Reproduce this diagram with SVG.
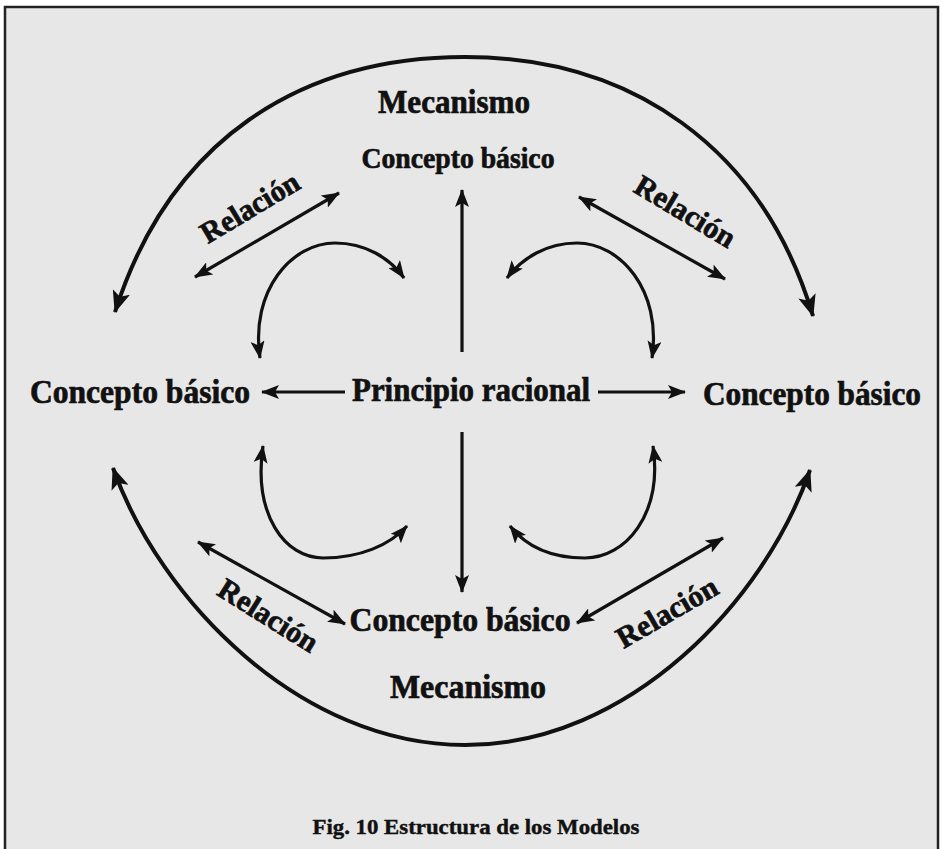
<svg xmlns="http://www.w3.org/2000/svg" width="943" height="849" viewBox="0 0 943 849">
<style>
.bg{fill:#e7e7e7}
.frame{fill:none;stroke:#222;stroke-width:2.5}
.ln{fill:none;stroke:#111;stroke-width:3.2}
.big{fill:none;stroke:#111;stroke-width:4}
.t{font-family:"Liberation Serif","Times New Roman",serif;font-weight:bold;fill:#111;stroke:#111;stroke-width:0.7;text-anchor:middle}
.n{font-size:33px}
.r{font-size:30px}
.cap{font-size:20px;stroke-width:0.4}
</style>
<defs>
<marker id="ah" viewBox="0 0 18 14" refX="17" refY="7" markerWidth="18" markerHeight="14" markerUnits="userSpaceOnUse" orient="auto-start-reverse">
<path d="M0,0 L18,7 L0,14 L4,7 z" fill="#111"/>
</marker>
<marker id="ab" viewBox="0 0 22 18" refX="21" refY="9" markerWidth="22" markerHeight="18" markerUnits="userSpaceOnUse" orient="auto-start-reverse">
<path d="M0,0 L22,9 L0,18 L5,9 z" fill="#111"/>
</marker>
</defs>
<rect x="0" y="0" width="943" height="849" fill="#ffffff"/>
<rect class="bg" x="5" y="7" width="933" height="850"/>
<rect class="frame" x="5" y="7" width="933" height="850"/>

<g id="connectors">
<path class="big" d="M115,312 C170,140 300,57 465,57 C630,57 762,146 813,316" marker-start="url(#ab)" marker-end="url(#ab)"/>
<path class="big" d="M113,468 C160,600 300,745 465,745 C630,745 765,600 810,470" marker-start="url(#ab)" marker-end="url(#ab)"/>
<line class="ln" x1="462" y1="352" x2="462" y2="190" marker-end="url(#ah)"/>
<line class="ln" x1="462" y1="432" x2="462" y2="592" marker-end="url(#ah)"/>
<line class="ln" x1="345" y1="392" x2="262" y2="392" marker-end="url(#ah)"/>
<line class="ln" x1="598" y1="392" x2="685" y2="392" marker-end="url(#ah)"/>
<line class="ln" x1="195" y1="277" x2="339" y2="193" marker-start="url(#ah)" marker-end="url(#ah)"/>
<line class="ln" x1="579" y1="197" x2="725" y2="279" marker-start="url(#ah)" marker-end="url(#ah)"/>
<line class="ln" x1="198" y1="542" x2="345" y2="624" marker-start="url(#ah)" marker-end="url(#ah)"/>
<line class="ln" x1="723" y1="538" x2="577" y2="623" marker-start="url(#ah)" marker-end="url(#ah)"/>
<path class="ln" d="M260,358 C250,290 292,243 335,243 C365,243 390,258 404,278" marker-start="url(#ah)" marker-end="url(#ah)"/>
<path class="ln" d="M652,358 C662,290 620,243 577,243 C547,243 522,258 507,278" marker-start="url(#ah)" marker-end="url(#ah)"/>
<path class="ln" d="M263,446 C253,515 285,558 323,558 C360,558 390,545 407,526" marker-start="url(#ah)" marker-end="url(#ah)"/>
<path class="ln" d="M653,446 C663,515 625,558 585,558 C548,558 525,545 510,526" marker-start="url(#ah)" marker-end="url(#ah)"/>
</g>

<g id="mecanismo-top"><text class="t n" x="454" y="113" textLength="152" lengthAdjust="spacingAndGlyphs">Mecanismo</text></g>
<g id="concepto-top"><text class="t n" x="458" y="168" textLength="193" lengthAdjust="spacingAndGlyphs" style="font-size:30px">Concepto básico</text></g>
<g id="concepto-left"><text class="t n" x="140" y="403" textLength="220" lengthAdjust="spacingAndGlyphs">Concepto básico</text></g>
<g id="principio"><text class="t n" x="471" y="401" textLength="238" lengthAdjust="spacingAndGlyphs">Principio racional</text></g>
<g id="concepto-right"><text class="t n" x="812" y="405" textLength="218" lengthAdjust="spacingAndGlyphs">Concepto básico</text></g>
<g id="concepto-bottom"><text class="t n" x="460" y="631" textLength="221" lengthAdjust="spacingAndGlyphs">Concepto básico</text></g>
<g id="mecanismo-bottom"><text class="t n" x="468" y="698" textLength="156" lengthAdjust="spacingAndGlyphs">Mecanismo</text></g>

<g id="relacion-tl"><text class="t r" transform="translate(255,216) rotate(-31)" textLength="110" lengthAdjust="spacingAndGlyphs">Relación</text></g>
<g id="relacion-tr"><text class="t r" transform="translate(680,220) rotate(31)" textLength="112" lengthAdjust="spacingAndGlyphs">Relación</text></g>
<g id="relacion-bl"><text class="t r" transform="translate(263,624) rotate(32)" textLength="112" lengthAdjust="spacingAndGlyphs">Relación</text></g>
<g id="relacion-br"><text class="t r" transform="translate(672,621) rotate(-30)" textLength="112" lengthAdjust="spacingAndGlyphs">Relación</text></g>

<g id="caption"><text class="t cap" x="476" y="834" textLength="327" lengthAdjust="spacingAndGlyphs">Fig. 10  Estructura de los Modelos</text></g>
</svg>
